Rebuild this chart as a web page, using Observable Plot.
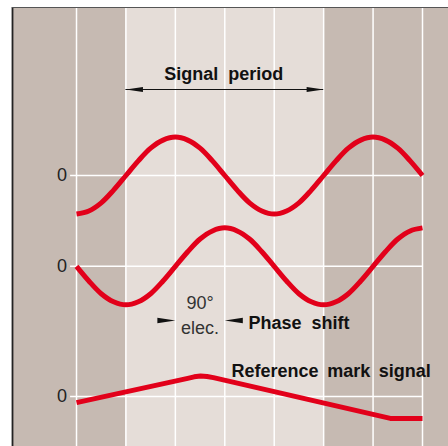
<!DOCTYPE html>
<html><head><meta charset="utf-8">
<script src="https://cdn.jsdelivr.net/npm/d3@7"></script>
<script src="https://cdn.jsdelivr.net/npm/@observablehq/plot@0.6"></script>
<style>body{margin:0;background:#fff;} svg{display:block}</style>
</head><body><div id="chart"></div>
<script>
// phase position in grid units (one grid unit = 90° elec.)
const phase = [0,0.25,0.5,0.75,1,1.25,1.5,1.75,2,2.25,2.5,2.75,3,3.25,3.5,3.75,4,4.25,4.5,4.75,5,5.25,5.5,5.75,6,6.25,6.5,6.75,7];
const signalA = [-1,-0.92,-0.71,-0.38,0,0.38,0.71,0.92,1,0.92,0.71,0.38,0,-0.38,-0.71,-0.92,-1,-0.92,-0.71,-0.38,0,0.38,0.71,0.92,1,0.92,0.71,0.38,0];
const signalB = [0,-0.38,-0.71,-0.92,-1,-0.92,-0.71,-0.38,0,0.38,0.71,0.92,1,0.92,0.71,0.38,0,-0.38,-0.71,-0.92,-1,-0.92,-0.71,-0.38,0,0.38,0.71,0.92,1];
const refPhase = [0,2.25,2.38,2.51,2.64,2.77,6.35,7];
const refSignal = [-0.16,0.47,0.51,0.53,0.52,0.49,-0.57,-0.57];
const baselines = [5.74, 3.38, 0];   // zero levels of the three traces
const zeroLabels = ["0","0","0"];
const gridU = [0,1,2,3,4,5,6,7];
const bandEdges = [-1.295, 1, 5, 7.526];
const bandShade = ["dark","light","dark"];

const bands = bandShade.map((s,i)=>({x1: bandEdges[i], x2: bandEdges[i+1], s}));
const traceA = phase.map((u,i)=>({u, v: signalA[i] + baselines[0]}));
const traceB = phase.map((u,i)=>({u, v: signalB[i] + baselines[1]}));
const traceR = refPhase.map((u,i)=>({u, v: refSignal[i] + baselines[2]}));
const zeros = baselines.map((b,i)=>({v: b, t: zeroLabels[i]}));

const red = "#e2001a";
const ink = "#111";
// filled slim arrowheads, tip at origin
const headLeft = {draw(c){ c.moveTo(0,0); c.lineTo(17,-2.5); c.lineTo(17,2.5); c.closePath(); }};
const headRight = {draw(c){ c.moveTo(0,0); c.lineTo(-17,-2.5); c.lineTo(-17,2.5); c.closePath(); }};
const pHeadLeft = {draw(c){ c.moveTo(0,0); c.lineTo(18,-2.7); c.lineTo(18,2.7); c.closePath(); }};
const pHeadRight = {draw(c){ c.moveTo(0,0); c.lineTo(-18,-2.7); c.lineTo(-18,2.7); c.closePath(); }};

const chart = Plot.plot({
  width: 448, height: 446,
  marginLeft: 12, marginRight: 0, marginTop: 7, marginBottom: 0,
  x: {domain: [-1.295, 7.526], axis: null},
  y: {domain: [-1.299, 10.104], axis: null},
  style: {fontFamily: "'Liberation Sans', Arial, sans-serif", background: "white"},
  marks: [
    Plot.rect(bands, {x1: "x1", x2: "x2", fill: d => d.s === "dark" ? "#c6bab2" : "#e5ddd8"}),
    Plot.ruleX(gridU, {stroke: "#fff", strokeWidth: 1.5}),
    Plot.ruleY(baselines, {x1: -0.12, x2: 7, stroke: "#fff", strokeWidth: 1.5}),
    Plot.ruleX([-1.295], {stroke: "#222", strokeWidth: 1.8}),
    Plot.ruleY([10.104], {stroke: "#555", strokeWidth: 1}),
    Plot.line(traceA, {x: "u", y: "v", curve: "catmull-rom", stroke: red, strokeWidth: 5, strokeLinecap: "butt"}),
    Plot.line(traceB, {x: "u", y: "v", curve: "catmull-rom", stroke: red, strokeWidth: 5, strokeLinecap: "butt"}),
    Plot.line(traceR, {x: "u", y: "v", curve: "linear", stroke: red, strokeWidth: 5, strokeLinecap: "butt", strokeLinejoin: "round"}),
    Plot.text(zeros, {x: () => -0.19, y: "v", text: "t", textAnchor: "end", lineAnchor: "middle", fontSize: 18, fill: "#222"}),
    // Signal period
    Plot.ruleY([7.974], {x1: 1, x2: 5, stroke: ink, strokeWidth: 1}),
    Plot.dot([{u: 1, v: 7.974}], {x: "u", y: "v", symbol: headLeft, fill: ink, stroke: "none"}),
    Plot.dot([{u: 5, v: 7.974}], {x: "u", y: "v", symbol: headRight, fill: ink, stroke: "none"}),
    Plot.text([{u: 2.98, v: 8.208, t: "Signal\u00a0\u00a0period"}], {x: "u", y: "v", text: "t", textAnchor: "middle", lineAnchor: "bottom", fontSize: 18, fontWeight: "bold", fill: ink}),
    // Phase shift
    Plot.dot([{u: 2, v: 1.974}], {x: "u", y: "v", symbol: pHeadRight, fill: ink, stroke: "none"}),
    Plot.dot([{u: 3, v: 1.974}], {x: "u", y: "v", symbol: pHeadLeft, fill: ink, stroke: "none"}),
    Plot.text([{u: 2.5, v: 2.26, t: "90°"}], {x: "u", y: "v", text: "t", textAnchor: "middle", lineAnchor: "bottom", fontSize: 18, fill: "#333"}),
    Plot.text([{u: 2.5, v: 1.63, t: "elec."}], {x: "u", y: "v", text: "t", textAnchor: "middle", lineAnchor: "bottom", fontSize: 18, fill: "#333"}),
    Plot.text([{u: 3.48, v: 1.766, t: "Phase\u00a0\u00a0shift"}], {x: "u", y: "v", text: "t", textAnchor: "start", lineAnchor: "bottom", fontSize: 18, fontWeight: "bold", fill: ink}),
    Plot.text([{u: 3.136, v: 0.494, t: "Reference\u2009 mark\u2009 signal"}], {x: "u", y: "v", text: "t", textAnchor: "start", lineAnchor: "bottom", fontSize: 18, fontWeight: "bold", fill: ink})
  ]
});
document.getElementById("chart").appendChild(chart);
</script>
</body></html>
